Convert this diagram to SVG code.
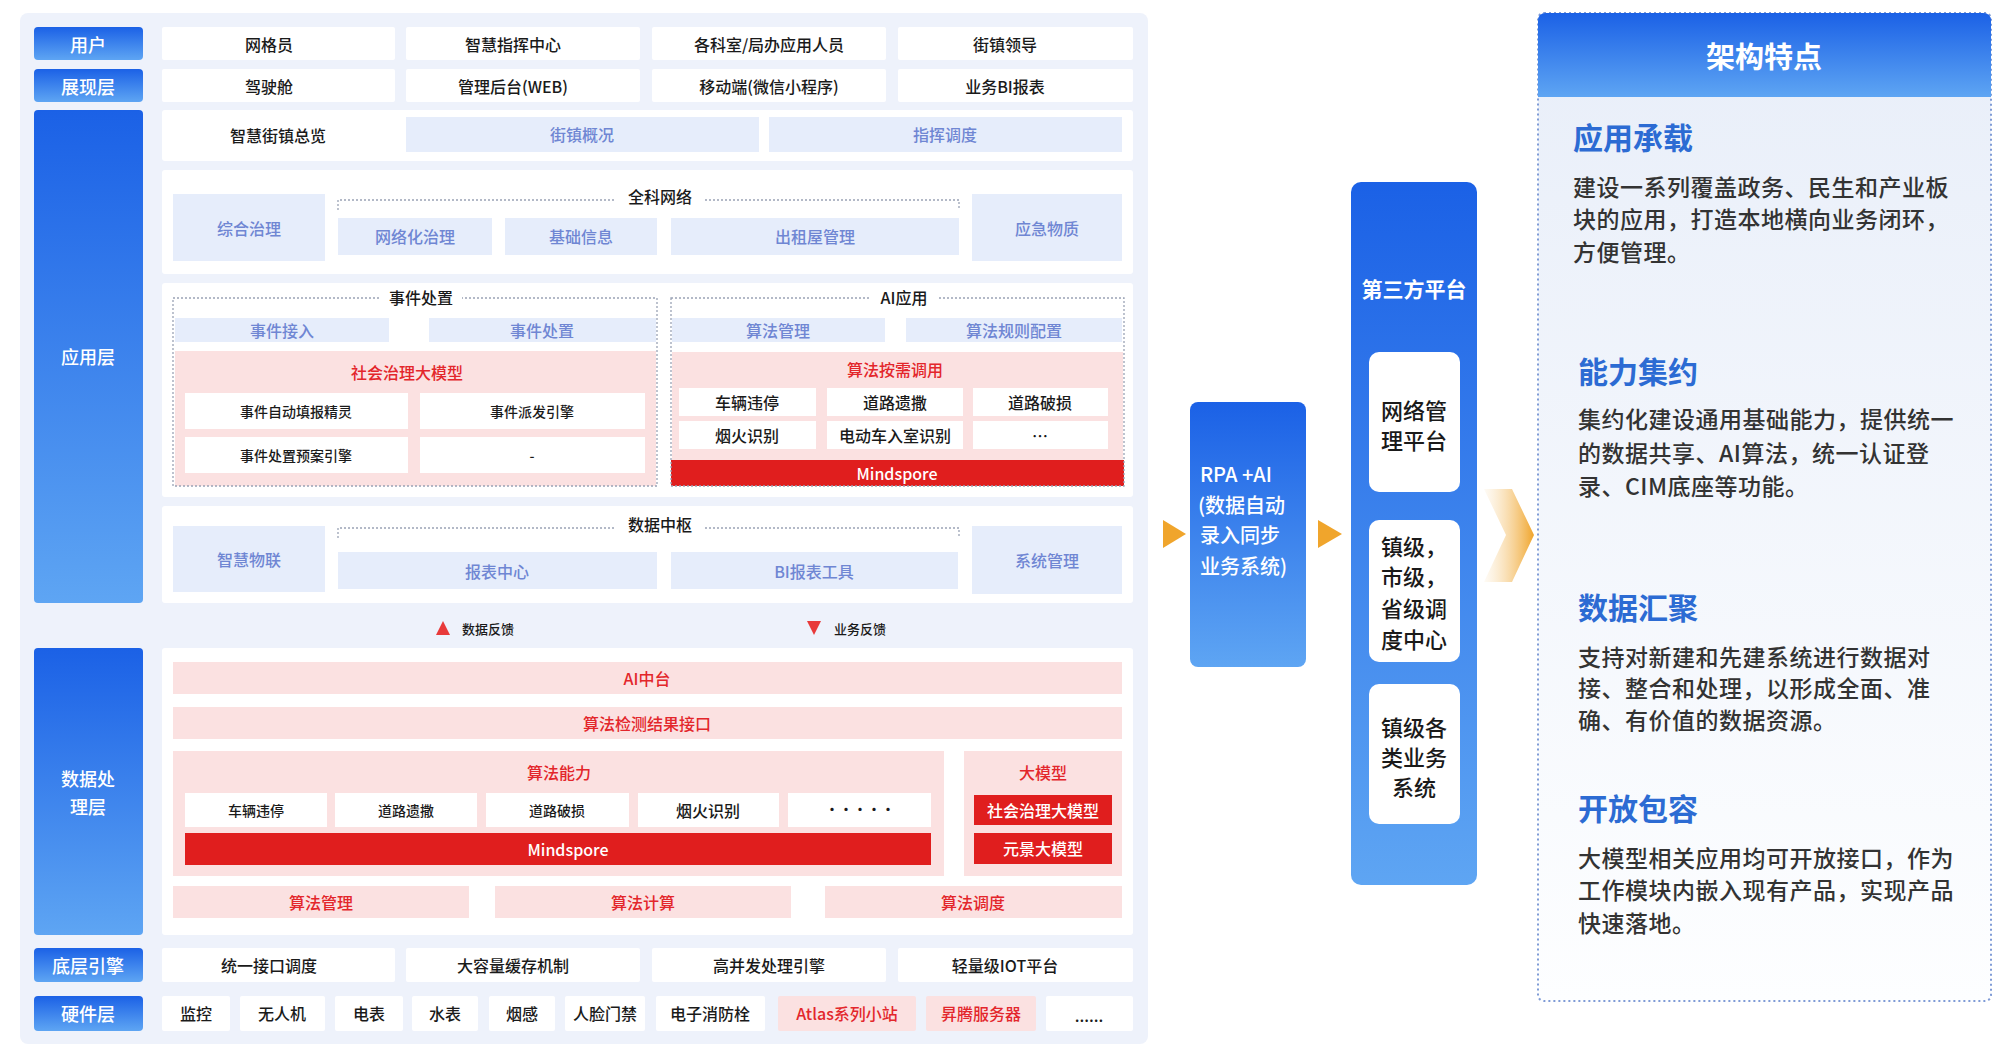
<svg xmlns="http://www.w3.org/2000/svg" width="2000" height="1053" viewBox="0 0 2000 1053">
<defs>
<linearGradient id="gBlue" x1="0" y1="0" x2="0" y2="1"><stop offset="0" stop-color="#1b61e6"/><stop offset="1" stop-color="#5ea5f3"/></linearGradient>
<linearGradient id="gPanel" x1="0" y1="0" x2="0" y2="1"><stop offset="0" stop-color="#e8eef9"/><stop offset="1" stop-color="#fdfeff"/></linearGradient>
<linearGradient id="gChev" x1="0" y1="0" x2="1" y2="0"><stop offset="0" stop-color="#f7d6a0" stop-opacity="0.1"/><stop offset="1" stop-color="#f0a52c"/></linearGradient>
<style>
text{font-family:"Noto Sans CJK SC","Noto Sans",sans-serif;dominant-baseline:central;text-anchor:middle;font-weight:500}
.lbl{fill:url(#gBlue)}
.lt{fill:#fff;font-size:18px}
.cell{fill:#fff}
.ct{fill:#1a1a1a;font-size:16px}
.st{fill:#1a1a1a;font-size:14px}
.lb{fill:#e6edfb}
.lbt{fill:#6f86d3;font-size:16px}
.pk{fill:#fbe1e1}
.pkt{fill:#e3262b;font-size:16px}
.rd{fill:#e01e1e}
.rdt{fill:#fff;font-size:16px}
.dot{fill:none;stroke:#9aa3b5;stroke-width:1.3;stroke-dasharray:2 2}
.gt{fill:#1a1a1a;font-size:16px}
.ft{fill:#1a1a1a;font-size:13px;text-anchor:start}
.wh{fill:#fff}
.bt{fill:#fff;font-size:20px;text-anchor:start}
.it{fill:#1a1a1a;font-size:22px}
.ht{fill:#2c6bd3;font-size:30px;font-weight:bold;text-anchor:start}
.bd{fill:#333;font-size:23px;text-anchor:start;letter-spacing:0.5px}
.hb{fill:#fff;font-weight:bold}
.arr{fill:#f0a52c}
</style>
</defs>
<rect x="0" y="0" width="2000" height="1053" fill="#fff"/>
<rect x="20" y="13" width="1128" height="1031" rx="8" fill="#eef2fb"/>

<g id="labels">
<rect class="lbl" x="34" y="27" width="109" height="33" rx="4"/><text class="lt" x="88" y="44">用户</text>
<rect class="lbl" x="34" y="69" width="109" height="33" rx="4"/><text class="lt" x="88" y="86">展现层</text>
<rect class="lbl" x="34" y="110" width="109" height="493" rx="4"/><text class="lt" x="88" y="356">应用层</text>
<rect class="lbl" x="34" y="648" width="109" height="287" rx="4"/><text class="lt" x="88" y="778">数据处</text><text class="lt" x="88" y="806">理层</text>
<rect class="lbl" x="34" y="948" width="109" height="34" rx="4"/><text class="lt" x="88" y="965">底层引擎</text>
<rect class="lbl" x="34" y="996" width="109" height="35" rx="4"/><text class="lt" x="88" y="1013">硬件层</text>
</g>

<g id="row-user">
<rect class="cell" x="162" y="27" width="233" height="33" rx="2"/><text class="ct" x="269" y="44">网格员</text>
<rect class="cell" x="406" y="27" width="234" height="33" rx="2"/><text class="ct" x="513" y="44">智慧指挥中心</text>
<rect class="cell" x="652" y="27" width="234" height="33" rx="2"/><text class="ct" x="769" y="44">各科室/局办应用人员</text>
<rect class="cell" x="898" y="27" width="235" height="33" rx="2"/><text class="ct" x="1005" y="44">街镇领导</text>
</g>
<g id="row-present">
<rect class="cell" x="162" y="69" width="233" height="33" rx="2"/><text class="ct" x="269" y="86">驾驶舱</text>
<rect class="cell" x="406" y="69" width="234" height="33" rx="2"/><text class="ct" x="513" y="86">管理后台(WEB)</text>
<rect class="cell" x="652" y="69" width="234" height="33" rx="2"/><text class="ct" x="769" y="86">移动端(微信小程序)</text>
<rect class="cell" x="898" y="69" width="235" height="33" rx="2"/><text class="ct" x="1005" y="86">业务BI报表</text>
</g>

<g id="app-overview">
<rect class="cell" x="162" y="110" width="971" height="51" rx="3"/>
<text class="ct" x="278" y="135">智慧街镇总览</text>
<rect class="lb" x="406" y="117" width="353" height="35"/><text class="lbt" x="582" y="134">街镇概况</text>
<rect class="lb" x="769" y="117" width="353" height="35"/><text class="lbt" x="945" y="134">指挥调度</text>
</g>

<g id="app-grid">
<rect class="cell" x="162" y="170" width="971" height="104" rx="3"/>
<rect class="lb" x="173" y="194" width="152" height="67"/><text class="lbt" x="249" y="228">综合治理</text>
<path class="dot" d="M338 210 V200 H615 M705 200 H959 V210"/>
<text class="gt" x="660" y="196">全科网络</text>
<rect class="lb" x="338" y="218" width="154" height="37"/><text class="lbt" x="415" y="236">网络化治理</text>
<rect class="lb" x="505" y="218" width="152" height="37"/><text class="lbt" x="581" y="236">基础信息</text>
<rect class="lb" x="671" y="218" width="288" height="37"/><text class="lbt" x="815" y="236">出租屋管理</text>
<rect class="lb" x="972" y="194" width="150" height="67"/><text class="lbt" x="1047" y="228">应急物质</text>
</g>

<g id="app-events">
<rect class="cell" x="162" y="283" width="971" height="214" rx="3"/>
<rect class="pk" x="175" y="351" width="481" height="135"/>
<rect class="dot" x="173" y="298" width="484" height="188"/>
<rect class="wh" x="380" y="288" width="82" height="20"/>
<text class="gt" x="421" y="297">事件处置</text>
<rect class="lb" x="175" y="318" width="214" height="24"/><text class="lbt" x="282" y="330">事件接入</text>
<rect class="lb" x="429" y="318" width="227" height="24"/><text class="lbt" x="542" y="330">事件处置</text>
<text class="pkt" x="407" y="372">社会治理大模型</text>
<rect class="cell" x="185" y="393" width="223" height="36"/><text class="st" x="296" y="411">事件自动填报精灵</text>
<rect class="cell" x="420" y="393" width="225" height="36"/><text class="st" x="532" y="411">事件派发引擎</text>
<rect class="cell" x="185" y="437" width="223" height="36"/><text class="st" x="296" y="455">事件处置预案引擎</text>
<rect class="cell" x="420" y="437" width="225" height="36"/><text class="st" x="532" y="455">-</text>
</g>

<g id="app-ai">
<rect class="pk" x="672" y="352" width="451" height="108"/>
<rect class="rd" x="671" y="460" width="453" height="26"/><text class="rdt" x="897" y="473">Mindspore</text>
<rect class="dot" x="671" y="298" width="453" height="188"/>
<rect class="wh" x="870" y="288" width="68" height="20"/>
<text class="gt" x="904" y="297">AI应用</text>
<rect class="lb" x="672" y="318" width="213" height="24"/><text class="lbt" x="778" y="330">算法管理</text>
<rect class="lb" x="906" y="318" width="216" height="24"/><text class="lbt" x="1014" y="330">算法规则配置</text>
<text class="pkt" x="895" y="369">算法按需调用</text>
<rect class="cell" x="679" y="388" width="137" height="28"/><text class="ct" x="747" y="402">车辆违停</text>
<rect class="cell" x="827" y="388" width="136" height="28"/><text class="ct" x="895" y="402">道路遗撒</text>
<rect class="cell" x="973" y="388" width="135" height="28"/><text class="ct" x="1040" y="402">道路破损</text>
<rect class="cell" x="679" y="421" width="137" height="28"/><text class="ct" x="747" y="435">烟火识别</text>
<rect class="cell" x="827" y="421" width="136" height="28"/><text class="ct" x="895" y="435">电动车入室识别</text>
<rect class="cell" x="973" y="421" width="135" height="28"/><text class="ct" x="1040" y="435">…</text>
</g>

<g id="app-data">
<rect class="cell" x="162" y="506" width="971" height="97" rx="3"/>
<rect class="lb" x="173" y="526" width="152" height="66"/><text class="lbt" x="249" y="559">智慧物联</text>
<path class="dot" d="M338 538 V528 H615 M705 528 H959 V538"/>
<text class="gt" x="660" y="524">数据中枢</text>
<rect class="lb" x="338" y="552" width="319" height="37"/><text class="lbt" x="497" y="571">报表中心</text>
<rect class="lb" x="671" y="552" width="287" height="37"/><text class="lbt" x="814" y="571">BI报表工具</text>
<rect class="lb" x="972" y="526" width="150" height="68"/><text class="lbt" x="1047" y="560">系统管理</text>
</g>

<g id="connectors">
<path d="M443 621 L450 635 L436 635 Z" fill="#e83a3a"/>
<text class="ft" x="462" y="628">数据反馈</text>
<path d="M807 621 L821 621 L814 635 Z" fill="#e83a3a"/>
<text class="ft" x="834" y="628">业务反馈</text>
<path class="arr" d="M1163 520 L1186 534 L1163 548 Z"/>
<path class="arr" d="M1318 520 L1342 534 L1318 548 Z"/>
<path d="M1484 489 L1512 489 L1534 535 L1512 582 L1484 582 L1506 535 Z" fill="url(#gChev)"/>
</g>

<g id="data-layer">
<rect class="cell" x="162" y="648" width="971" height="287" rx="3"/>
<rect class="pk" x="173" y="662" width="949" height="32"/><text class="pkt" x="647" y="678">AI中台</text>
<rect class="pk" x="173" y="707" width="949" height="32"/><text class="pkt" x="647" y="723">算法检测结果接口</text>
<rect class="pk" x="173" y="751" width="771" height="125"/><text class="pkt" x="559" y="772">算法能力</text>
<rect class="cell" x="185" y="793" width="142" height="34"/><text class="st" x="256" y="810">车辆违停</text>
<rect class="cell" x="335" y="793" width="142" height="34"/><text class="st" x="406" y="810">道路遗撒</text>
<rect class="cell" x="486" y="793" width="143" height="34"/><text class="st" x="557" y="810">道路破损</text>
<rect class="cell" x="638" y="793" width="141" height="34"/><text class="ct" x="708" y="810">烟火识别</text>
<rect class="cell" x="788" y="793" width="143" height="34"/><text class="st" x="860" y="808">·····</text>
<rect class="rd" x="185" y="833" width="746" height="32"/><text class="rdt" x="568" y="849">Mindspore</text>
<rect class="pk" x="964" y="751" width="158" height="125"/><text class="pkt" x="1043" y="772">大模型</text>
<rect class="rd" x="974" y="795" width="138" height="30"/><text class="rdt" x="1043" y="810">社会治理大模型</text>
<rect class="rd" x="974" y="833" width="138" height="31"/><text class="rdt" x="1043" y="848">元景大模型</text>
<rect class="pk" x="173" y="886" width="296" height="32"/><text class="pkt" x="321" y="902">算法管理</text>
<rect class="pk" x="495" y="886" width="296" height="32"/><text class="pkt" x="643" y="902">算法计算</text>
<rect class="pk" x="825" y="886" width="297" height="32"/><text class="pkt" x="973" y="902">算法调度</text>
</g>

<g id="engine-row">
<rect class="cell" x="162" y="948" width="233" height="34" rx="2"/><text class="ct" x="269" y="965">统一接口调度</text>
<rect class="cell" x="406" y="948" width="234" height="34" rx="2"/><text class="ct" x="513" y="965">大容量缓存机制</text>
<rect class="cell" x="652" y="948" width="234" height="34" rx="2"/><text class="ct" x="769" y="965">高并发处理引擎</text>
<rect class="cell" x="898" y="948" width="235" height="34" rx="2"/><text class="ct" x="1005" y="965">轻量级IOT平台</text>
</g>

<g id="hardware-row">
<rect class="cell" x="162" y="996" width="68" height="35" rx="2"/><text class="ct" x="196" y="1013">监控</text>
<rect class="cell" x="240" y="996" width="85" height="35" rx="2"/><text class="ct" x="282" y="1013">无人机</text>
<rect class="cell" x="335" y="996" width="68" height="35" rx="2"/><text class="ct" x="369" y="1013">电表</text>
<rect class="cell" x="412" y="996" width="66" height="35" rx="2"/><text class="ct" x="445" y="1013">水表</text>
<rect class="cell" x="489" y="996" width="66" height="35" rx="2"/><text class="ct" x="522" y="1013">烟感</text>
<rect class="cell" x="565" y="996" width="80" height="35" rx="2"/><text class="ct" x="605" y="1013">人脸门禁</text>
<rect class="cell" x="656" y="996" width="109" height="35" rx="2"/><text class="ct" x="710" y="1013">电子消防栓</text>
<rect class="pk" x="778" y="996" width="138" height="35" rx="2"/><text class="pkt" x="847" y="1013">Atlas系列小站</text>
<rect class="pk" x="926" y="996" width="110" height="35" rx="2"/><text class="pkt" x="981" y="1013">昇腾服务器</text>
<rect class="cell" x="1046" y="996" width="87" height="35" rx="2"/><text class="ct" x="1089" y="1015">......</text>
</g>

<g id="rpa">
<rect x="1190" y="402" width="116" height="265" rx="8" fill="url(#gBlue)"/>
<text class="bt" x="1200" y="473">RPA +AI</text>
<text class="bt" x="1198" y="504">(数据自动</text>
<text class="bt" x="1200" y="534">录入同步</text>
<text class="bt" x="1200" y="565">业务系统)</text>
</g>

<g id="third-party">
<rect x="1351" y="182" width="126" height="703" rx="10" fill="url(#gBlue)"/>
<text class="hb" x="1414" y="288" font-size="21">第三方平台</text>
<rect class="wh" x="1369" y="352" width="91" height="140" rx="10"/>
<text class="it" x="1414" y="409">网络管</text><text class="it" x="1414" y="439">理平台</text>
<rect class="wh" x="1369" y="520" width="91" height="142" rx="10"/>
<text class="it" x="1414" y="545">镇级，</text><text class="it" x="1414" y="575">市级，</text><text class="it" x="1414" y="607">省级调</text><text class="it" x="1414" y="638">度中心</text>
<rect class="wh" x="1369" y="684" width="91" height="140" rx="10"/>
<text class="it" x="1414" y="726">镇级各</text><text class="it" x="1414" y="756">类业务</text><text class="it" x="1414" y="786">系统</text>
</g>

<g id="features">
<rect x="1538" y="13" width="453" height="988" rx="6" fill="url(#gPanel)"/>
<rect x="1538" y="13" width="453" height="988" rx="6" fill="none" stroke="#7f9bd6" stroke-width="2" stroke-dasharray="2 3"/>
<path d="M1538 97 V21 Q1538 13 1546 13 H1983 Q1991 13 1991 21 V97 Z" fill="url(#gBlue)"/>
<text class="hb" x="1764" y="55" font-size="29">架构特点</text>
<text class="ht" x="1573" y="136">应用承载</text>
<text class="bd" x="1573" y="186">建设一系列覆盖政务、民生和产业板</text>
<text class="bd" x="1573" y="218">块的应用，打造本地横向业务闭环，</text>
<text class="bd" x="1573" y="251">方便管理。</text>
<text class="ht" x="1578" y="370">能力集约</text>
<text class="bd" x="1578" y="418">集约化建设通用基础能力，提供统一</text>
<text class="bd" x="1578" y="452">的数据共享、AI算法，统一认证登</text>
<text class="bd" x="1578" y="485">录、CIM底座等功能。</text>
<text class="ht" x="1578" y="606">数据汇聚</text>
<text class="bd" x="1578" y="656">支持对新建和先建系统进行数据对</text>
<text class="bd" x="1578" y="687">接、整合和处理，以形成全面、准</text>
<text class="bd" x="1578" y="719">确、有价值的数据资源。</text>
<text class="ht" x="1578" y="807">开放包容</text>
<text class="bd" x="1578" y="857">大模型相关应用均可开放接口，作为</text>
<text class="bd" x="1578" y="889">工作模块内嵌入现有产品，实现产品</text>
<text class="bd" x="1578" y="922">快速落地。</text>
</g>
</svg>
